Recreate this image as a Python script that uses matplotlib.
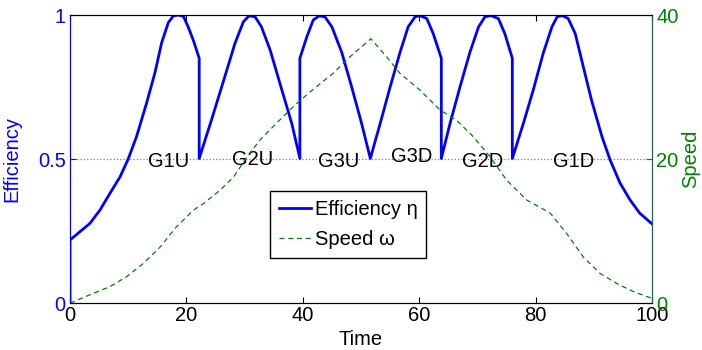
import numpy as np
import matplotlib
matplotlib.use("Agg")
import matplotlib.pyplot as plt

plt.rcParams['font.family'] = ['Liberation Sans', 'DejaVu Sans']

# --------------------------------------------------------
# DATA
# --------------------------------------------------------

eff_t = [0, 0, 1.72, 3.44, 5.15, 6.87, 8.59, 10.0, 11.45, 13.17, 14.6, 15.75, 16.9, 17.75, 18.6,
         19.5, 20.3, 21.2, 22.2,
         22.2, 24.3, 26.6, 28.35, 29.8, 30.75, 31.8, 32.9, 34.4, 36.4, 38.1, 39.5,
         39.5, 40.7, 41.8, 42.8, 43.8, 45.0, 46.7, 48.4, 50.1, 51.6,
         53.3, 55.0, 56.7, 58.1, 59.3, 60.1, 61.3, 62.4, 63.8,
         63.8, 65.3, 67.0, 68.7, 70.2, 71.3, 72.3, 73.6, 74.7, 76.0,
         76.0, 77.9, 79.6, 81.3, 82.8, 83.7, 84.6, 85.6, 86.8, 88.2, 89.6, 91.4, 92.8, 94.5,
         96.2, 97.9, 100]
eff_v = [0, 0.219, 0.248, 0.277, 0.323, 0.381, 0.438, 0.5, 0.579, 0.695, 0.80, 0.904, 0.974, 0.997, 1.0,
         0.995, 0.959, 0.912, 0.85,
         0.502, 0.635, 0.786, 0.902, 0.977, 0.997, 0.994, 0.959, 0.878, 0.74, 0.624, 0.502,
         0.85, 0.925, 0.983, 0.997, 0.994, 0.959, 0.87, 0.75, 0.624, 0.502,
         0.624, 0.75, 0.87, 0.959, 0.994, 0.998, 0.988, 0.936, 0.85,
         0.502, 0.624, 0.75, 0.87, 0.959, 0.994, 0.998, 0.988, 0.936, 0.85,
         0.502, 0.624, 0.74, 0.867, 0.959, 0.994, 0.998, 0.988, 0.936, 0.82, 0.705, 0.578, 0.497, 0.417,
         0.359, 0.312, 0.275]

spd_t = [0, 4.0, 6.9, 9.7, 12.6, 15.5, 18.3, 21.2, 22.9, 25.8, 28.1, 30.4, 32.6, 35.5, 38.4, 41.2,
         45.2, 48.1, 51.7, 54.4, 56.7, 60.1, 63.6, 66.4, 69.3, 72.2, 75.0, 78.5,
         82.5, 85.3, 88.2, 91.1, 94.0, 96.8, 100]
spd_v = [0, 1.35, 2.3, 3.65, 5.5, 7.8, 10.6, 12.9, 13.8, 15.7, 17.5, 20.3, 22.6, 25.0, 27.3, 29.3,
         31.9, 34.2, 36.7, 34.2, 31.9, 29.6, 26.8, 25.4, 23.1, 20.3, 17.1, 14.3,
         12.5, 9.7, 6.4, 4.1, 2.7, 1.6, 0.65]

gear_labels = ["G1U", "G2U", "G3U", "G3D", "G2D", "G1D"]
gear_x = [16.9, 31.4, 46.1, 58.7, 70.9, 86.5]
gear_y = [0.49, 0.50, 0.49, 0.51, 0.49, 0.49]

# --------------------------------------------------------
# PLOT
# --------------------------------------------------------

blue = (0, 0, 1)
green = (0, 0.5, 0)
fs = 14.5

fig = plt.figure(figsize=(7.02, 3.5), dpi=100)
ax = fig.add_axes([0.0997, 0.134, 0.8291, 0.823])
ax2 = ax.twinx()

ax.axhline(0.5, color=(0.45, 0.45, 0.85), linestyle=':', linewidth=0.9, zorder=1)
l1, = ax.plot(eff_t, eff_v, color=blue, linewidth=2, label="Efficiency η")
l2, = ax2.plot(spd_t, spd_v, color=green, linestyle='--', linewidth=0.9,
               dashes=(4, 3), label="Speed ω")

for lab, x, y in zip(gear_labels, gear_x, gear_y):
    ax.text(x, y, lab, fontsize=fs, ha='center', va='center', color='black')

ax.set_xlim(0, 100)
ax.set_ylim(0, 1)
ax2.set_ylim(0, 40)
ax.set_xticks([0, 20, 40, 60, 80, 100])
ax.set_yticks([0, 0.5, 1])
ax.set_yticklabels(["0", "0.5", "1"])
ax2.set_yticks([0, 20, 40])

ax.tick_params(axis='x', direction='in', top=True, length=4, labelsize=fs, pad=2)
ax.tick_params(axis='y', direction='in', length=4, labelsize=fs, colors=blue, pad=3)
ax2.tick_params(axis='y', direction='in', length=4, labelsize=fs, colors=green, pad=3)

ax.spines['left'].set_color(blue)
ax2.spines['left'].set_color(blue)
ax2.spines['right'].set_color('#205c50')
ax.spines['right'].set_color('#205c50')

ax.set_xlabel("Time", fontsize=fs, labelpad=4)
ax.set_ylabel("Efficiency", fontsize=fs, color=blue, labelpad=12)
ax2.set_ylabel("Speed", fontsize=fs, color=green, labelpad=2)

leg = ax2.legend([l1, l2], ["Efficiency η", "Speed ω"], loc='upper left',
                 bbox_to_anchor=(0.344, 0.39), borderaxespad=0, fontsize=fs,
                 fancybox=False, edgecolor='black', framealpha=1,
                 handlelength=1.6, handletextpad=0.15, borderpad=0.45, labelspacing=0.55)
leg.get_frame().set_linewidth(1)

fig.savefig("out.png", dpi=100)
